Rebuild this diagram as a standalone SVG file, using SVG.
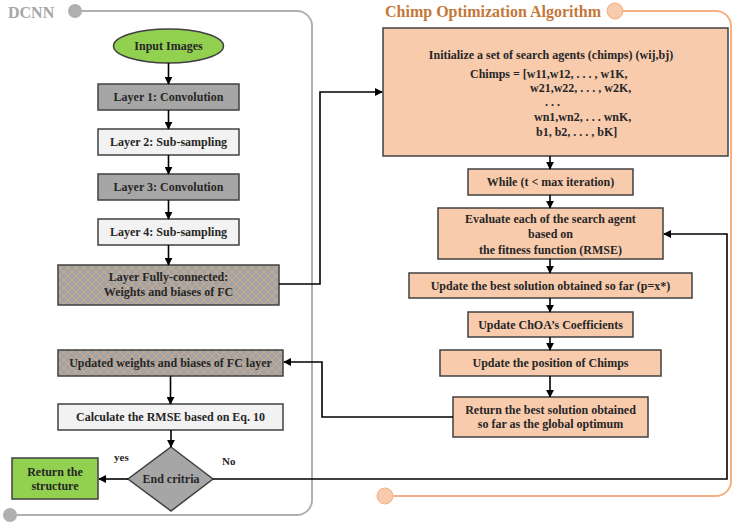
<svg xmlns="http://www.w3.org/2000/svg" width="738" height="525" viewBox="0 0 738 525">
<defs>
<style>
.t{font-family:"Liberation Serif","Times New Roman",serif;font-weight:bold;font-size:12px;fill:#262626}
.c{text-anchor:middle}
.bx{stroke:#404040;stroke-width:1.5}
.dk{fill:#a6a6a6}
.lt{fill:#f2f2f2}
.pe{fill:#f8cbad}
.gr{fill:#92d050}
.hx{fill:url(#hatch)}
.ln{fill:none;stroke:#000;stroke-width:1.6}
.ar{marker-end:url(#ah)}
</style>
<marker id="ah" viewBox="0 0 10 10" refX="9" refY="5" markerWidth="8" markerHeight="8" markerUnits="userSpaceOnUse" orient="auto">
<path d="M0,0 L10,5 L0,10 Z" fill="#000"/>
</marker>
<pattern id="hatch" width="8" height="8" patternUnits="userSpaceOnUse">
<rect width="8" height="8" fill="#a3a3a3"/>
<path d="M0,0 L8,8 M8,0 L0,8" stroke="#d4aa84" stroke-width="0.9"/>
</pattern>
</defs>

<g id="frame-dcnn">
<path d="M77,11 H297 A15,15 0 0 1 312,26 V500 A15,15 0 0 1 297,515 H10" fill="none" stroke="#b0b0b0" stroke-width="2"/>
<circle cx="75" cy="11" r="7" fill="#b0b0b0"/>
<circle cx="10" cy="515" r="7" fill="#b0b0b0"/>
<text x="8" y="18" style="font-family:'Liberation Serif',serif;font-weight:bold;font-size:16px;fill:#a6a6a6">DCNN</text>
</g>

<g id="frame-choa">
<path d="M615,11 H716 A15,15 0 0 1 731,26 V481 A15,15 0 0 1 716,496 H385" fill="none" stroke="#f4b183" stroke-width="2"/>
<circle cx="615" cy="11" r="8" fill="#f8cbad" stroke="#f4b183" stroke-width="1"/>
<circle cx="385" cy="496" r="8" fill="#f8cbad" stroke="#f4b183" stroke-width="1"/>
<text x="385" y="17" style="font-family:'Liberation Serif',serif;font-weight:bold;font-size:16px;fill:#c5773a">Chimp Optimization Algorithm</text>
</g>

<g id="input-images">
<ellipse cx="168.5" cy="46" rx="55" ry="17" class="gr bx"/>
<text x="168.5" y="50" class="t c">Input Images</text>
</g>
<g id="layer1">
<rect x="98" y="84" width="141" height="26" class="dk bx"/>
<text x="168.5" y="101" class="t c">Layer 1: Convolution</text>
</g>
<g id="layer2">
<rect x="98" y="129" width="141" height="26" class="lt bx"/>
<text x="168.5" y="146" class="t c">Layer 2: Sub-sampling</text>
</g>
<g id="layer3">
<rect x="98" y="174" width="141" height="26" class="dk bx"/>
<text x="168.5" y="191" class="t c">Layer 3: Convolution</text>
</g>
<g id="layer4">
<rect x="98" y="219" width="141" height="26" class="lt bx"/>
<text x="168.5" y="236" class="t c">Layer 4: Sub-sampling</text>
</g>
<g id="fc-layer">
<rect x="58" y="265" width="221" height="40" class="hx bx"/>
<text x="168.5" y="281" class="t c">Layer Fully-connected:</text>
<text x="168.5" y="296" class="t c">Weights and biases of FC</text>
</g>
<g id="updated-weights">
<rect x="58" y="350" width="225" height="26" class="hx bx"/>
<text x="170.5" y="367" class="t c">Updated weights and biases of FC layer</text>
</g>
<g id="calc-rmse">
<rect x="58" y="404" width="225" height="26" class="lt bx"/>
<text x="170.5" y="421" class="t c">Calculate the RMSE based on Eq. 10</text>
</g>
<g id="end-criteria">
<path d="M171,447 L213,479 L171,511 L128,479 Z" class="dk bx"/>
<text x="171" y="483" class="t c">End critria</text>
</g>
<g id="return-structure">
<rect x="12" y="458" width="86" height="41" class="gr bx"/>
<text x="55" y="476" class="t c">Return the</text>
<text x="55" y="490" class="t c">structure</text>
</g>

<g id="initialize">
<rect x="383" y="28" width="345" height="128" class="pe bx"/>
<text x="551" y="59" class="t c">Initialize a set of search agents (chimps) (wij,bj)</text>
<text x="470" y="78" class="t">Chimps = [w11,w12, . . . , w1K,</text>
<text x="530" y="92" class="t">w21,w22, . . . , w2K,</text>
<text x="545" y="106" class="t">. . .</text>
<text x="534" y="121" class="t">wn1,wn2, . . . wnK,</text>
<text x="536" y="136" class="t">b1, b2, . . . , bK]</text>
</g>
<g id="while">
<rect x="468" y="169" width="165" height="26" class="pe bx"/>
<text x="550.5" y="186" class="t c">While (t &lt; max iteration)</text>
</g>
<g id="evaluate">
<rect x="438" y="208" width="225" height="51" class="pe bx"/>
<text x="550.5" y="223" class="t c">Evaluate each of the search agent</text>
<text x="550.5" y="238" class="t c">based on</text>
<text x="550.5" y="254" class="t c">the fitness function (RMSE)</text>
</g>
<g id="update-best">
<rect x="409" y="273" width="283" height="25" class="pe bx"/>
<text x="550.5" y="290" class="t c">Update the best solution obtained so far (p=x*)</text>
</g>
<g id="update-coeff">
<rect x="468" y="312" width="165" height="25" class="pe bx"/>
<text x="550.5" y="329" class="t c">Update ChOA’s Coefficients</text>
</g>
<g id="update-position">
<rect x="440" y="350" width="221" height="26" class="pe bx"/>
<text x="550.5" y="367" class="t c">Update the position of Chimps</text>
</g>
<g id="return-best">
<rect x="453" y="397" width="195" height="40" class="pe bx"/>
<text x="550.5" y="414" class="t c">Return the best solution obtained</text>
<text x="550.5" y="428" class="t c">so far as the global optimum</text>
</g>

<g id="connectors">
<line x1="168.5" y1="63" x2="168.5" y2="84" class="ln ar"/>
<line x1="168.5" y1="110" x2="168.5" y2="129" class="ln ar"/>
<line x1="168.5" y1="155" x2="168.5" y2="174" class="ln ar"/>
<line x1="168.5" y1="200" x2="168.5" y2="219" class="ln ar"/>
<line x1="168.5" y1="245" x2="168.5" y2="265" class="ln ar"/>
<polyline points="279,284 320,284 320,92 382,92" class="ln ar"/>
<line x1="550" y1="156" x2="550" y2="169" class="ln ar"/>
<line x1="550" y1="195" x2="550" y2="208" class="ln ar"/>
<line x1="550" y1="259" x2="550" y2="273" class="ln ar"/>
<line x1="550" y1="298" x2="550" y2="312" class="ln ar"/>
<line x1="550" y1="337" x2="550" y2="350" class="ln ar"/>
<line x1="550" y1="376" x2="550" y2="397" class="ln ar"/>
<polyline points="453,417 322,417 322,362 284,362" class="ln ar"/>
<line x1="170.5" y1="376" x2="170.5" y2="404" class="ln ar"/>
<line x1="171" y1="430" x2="171" y2="447" class="ln ar"/>
<line x1="128" y1="479" x2="99" y2="479" class="ln ar"/>
<polyline points="213,479 727,479 727,234 664,234" class="ln ar"/>
<text x="114" y="461" class="t" style="font-size:11px">yes</text>
<text x="222" y="465" class="t" style="font-size:11px">No</text>
</g>
</svg>
